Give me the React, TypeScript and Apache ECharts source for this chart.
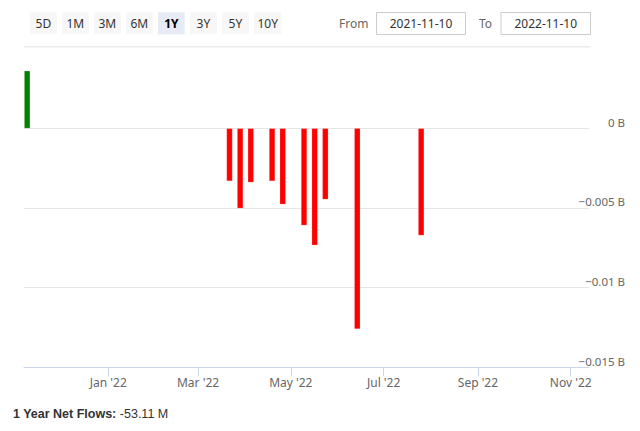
import React, { useEffect, useRef } from "react";
import * as echarts from "echarts";

const dates = [
  "2021-11-08",
  "2022-03-21",
  "2022-03-28",
  "2022-04-04",
  "2022-04-18",
  "2022-04-25",
  "2022-05-09",
  "2022-05-16",
  "2022-05-23",
  "2022-06-13",
  "2022-07-25",
];
const flows = [
  0.00362, -0.00331, -0.00502, -0.00339, -0.00331, -0.00477, -0.00609, -0.00734,
  -0.00446, -0.0126, -0.00672,
];
const xTickDates = ["2022-01-01", "2022-03-01", "2022-05-01", "2022-07-01", "2022-09-01", "2022-11-01"];
const monthNames = ["Jan", "Feb", "Mar", "Apr", "May", "Jun", "Jul", "Aug", "Sep", "Oct", "Nov", "Dec"];
const rangeButtons = ["5D", "1M", "3M", "6M", "1Y", "3Y", "5Y", "10Y"];
const selectedButton = "1Y";
const fromDate = "2021-11-10";
const toDate = "2022-11-10";
const netFlowsLabel = "1 Year Net Flows:";
const netFlowsValue = "-53.11 M";

const FONT = "'Noto Sans', 'Open Sans', sans-serif";

function ts(s: string, hour = 0) {
  const [y, m, d] = s.split("-").map(Number);
  return Date.UTC(y, m - 1, d, hour);
}

export default function App() {
  const ref = useRef<HTMLDivElement>(null);

  useEffect(() => {
    if (!ref.current) return;
    const chart = echarts.init(ref.current, undefined, { renderer: "svg" });
    const tickValues = xTickDates.map((d) => ts(d));

    const graphic: any[] = [];
    rangeButtons.forEach((b, i) => {
      const x = 30 + 32 * i;
      const w = b.length > 2 ? 27.4 : 26.7;
      const sel = b === selectedButton;
      graphic.push({
        type: "rect",
        shape: { x, y: 12.3, width: w, height: 22 },
        style: { fill: sel ? "#e6ebf5" : "#f7f7f7" },
        silent: true,
      });
      graphic.push({
        type: "text",
        x: x + w / 2,
        y: 23.5,
        style: {
          text: b,
          fill: sel ? "#000000" : "#333333",
          font: `${sel ? "bold " : ""}12px ${FONT}`,
          align: "center",
          verticalAlign: "middle",
        },
        silent: true,
      });
    });
    graphic.push(
      {
        type: "text",
        x: 368.5,
        y: 23.5,
        style: { text: "From", fill: "#666666", font: `12px ${FONT}`, align: "right", verticalAlign: "middle" },
      },
      {
        type: "rect",
        shape: { x: 376.5, y: 12.5, width: 89, height: 22 },
        style: { fill: "#ffffff", stroke: "#cccccc", lineWidth: 1 },
      },
      {
        type: "text",
        x: 421,
        y: 23.5,
        style: { text: fromDate, fill: "#333333", font: `12px ${FONT}`, align: "center", verticalAlign: "middle" },
      },
      {
        type: "text",
        x: 492,
        y: 23.5,
        style: { text: "To", fill: "#666666", font: `12px ${FONT}`, align: "right", verticalAlign: "middle" },
      },
      {
        type: "rect",
        shape: { x: 501, y: 12.5, width: 89.5, height: 22 },
        style: { fill: "#ffffff", stroke: "#cccccc", lineWidth: 1 },
      },
      {
        type: "text",
        x: 545.75,
        y: 23.5,
        style: { text: toDate, fill: "#333333", font: `12px ${FONT}`, align: "center", verticalAlign: "middle" },
      },
      {
        type: "line",
        shape: { x1: 24, y1: 46.7, x2: 590, y2: 46.7 },
        style: { stroke: "#ececec", lineWidth: 1.5 },
      },
      {
        type: "text",
        x: 13,
        y: 414,
        style: {
          text: `{b|${netFlowsLabel}} {n|${netFlowsValue}}`,
          verticalAlign: "middle",
          rich: {
            b: { font: `bold 12.5px 'Liberation Sans', Arial, sans-serif`, fill: "#333333" },
            n: { font: `12.5px 'Liberation Sans', Arial, sans-serif`, fill: "#333333" },
          },
        },
      }
    );

    chart.setOption({
      animation: false,
      grid: { left: 24, right: 51, top: 71, bottom: 63.7, containLabel: false },
      xAxis: {
        type: "value",
        scale: true,
        min: ts("2021-11-06", 14),
        max: ts("2022-11-13", 0),
        axisLine: { show: true, onZero: false, lineStyle: { color: "#ccd6eb", width: 1 } },
        axisTick: { show: true, length: 9, lineStyle: { color: "#ccd6eb" }, customValues: tickValues },
        axisLabel: {
          customValues: tickValues,
          color: "#666666",
          fontSize: 12,
          fontFamily: FONT,
          margin: 9,
          formatter: (v: number) => {
            const d = new Date(v);
            return `${monthNames[d.getUTCMonth()]} '${String(d.getUTCFullYear()).slice(2)}`;
          },
        },
        splitLine: { show: false },
      },
      yAxis: {
        type: "value",
        position: "right",
        min: -0.015,
        max: 0.0036,
        interval: 0.005,
        axisLine: { show: false },
        axisTick: { show: false },
        splitLine: { show: true, showMaxLine: false, lineStyle: { color: "#e6e6e6", width: 1 } },
        axisLabel: {
          showMaxLabel: false,
          align: "right",
          verticalAlign: "bottom",
          margin: 36,
          color: "#666666",
          fontSize: 11.5,
          fontFamily: FONT,
          formatter: (v: number) => {
            const r = Math.round(v * 1000) / 1000;
            if (Math.abs(r) < 1e-9) return "0 B";
            return `${r < 0 ? "\u2212" : ""}${Math.abs(r)} B`;
          },
        },
      },
      series: [
        {
          type: "bar",
          barWidth: 6,
          data: dates.map((d, i) => [ts(d, 16), flows[i]]),
          itemStyle: {
            color: (p: any) => (p.value[1] >= 0 ? "#008000" : "#ff0000"),
            borderColor: "rgba(255,255,255,0.35)",
            borderWidth: 0.5,
          },
        },
      ],
      graphic,
    });
    return () => chart.dispose();
  }, []);

  return (
    <div
      ref={ref}
      style={{ position: "fixed", left: 0, top: 0, width: 640, height: 431, background: "#ffffff" }}
    />
  );
}
